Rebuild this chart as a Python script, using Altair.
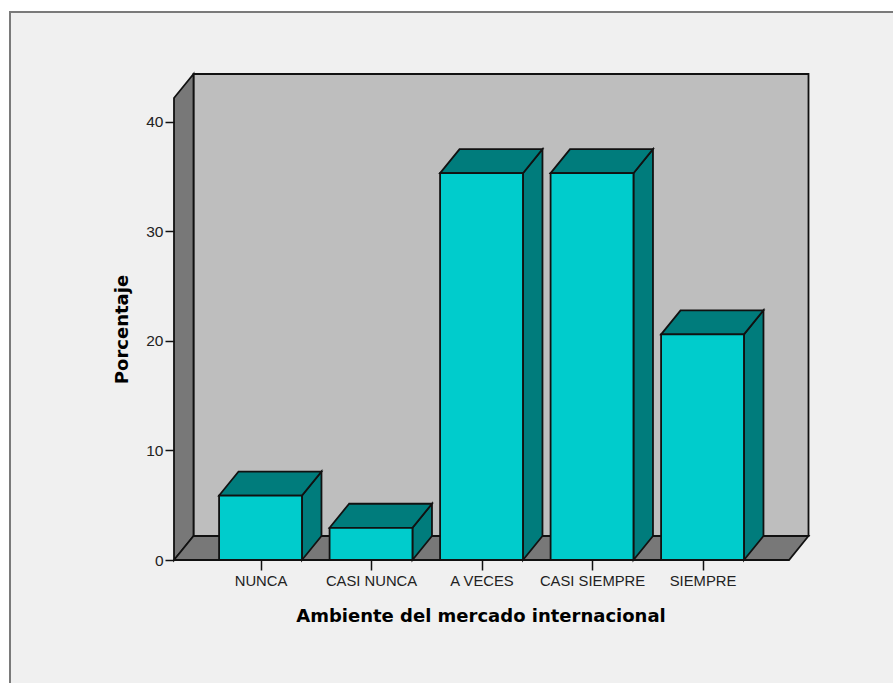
import json
import altair as alt
import pandas as pd

# Survey results: share of responses per category
categories = ["NUNCA", "CASI NUNCA", "A VECES", "CASI SIEMPRE", "SIEMPRE"]
percentages = [5.88, 2.94, 35.29, 35.29, 20.59]
y_ticks = [0, 10, 20, 30, 40]

# Extent of the 3D box and its oblique depth, in axis units
X_MIN, X_MAX = 0.217, 5.959
Y_MIN, Y_MAX = 0.0, 44.34
DEPTH_X, DEPTH_Y = 0.1765, 2.19
BAR_WIDTH = 0.75

INK = "#111111"
LINE_WIDTH = 1.8
FRONT = "#00CCCC"
SHADE = "#007C7C"
WALL = "#BEBEBE"
SIDE_WALL = "#787878"
FRAME_FILL = "#F0F0F0"
FRAME_LINE = "#7A7A7A"
FONT = "Liberation Sans"
TITLE_FONT = "DejaVu Sans"

x_scale = alt.Scale(domain=[X_MIN, X_MAX], nice=False, zero=False)
y_scale = alt.Scale(domain=[Y_MIN, Y_MAX], nice=False, zero=False)

x_axis = alt.Axis(
    values=list(range(1, len(categories) + 1)),
    labelExpr=f"{json.dumps(categories)}[datum.value - 1]",
    title="Ambiente del mercado internacional",
    titleFont=TITLE_FONT, titleFontSize=18, titleFontWeight="bold", titleColor="#000000",
    titleX=306.5, titleY=47, titleAnchor="middle", titleAlign="center",
    labelFont=FONT, labelFontSize=14.8, labelColor="#222222", labelPadding=3, labelOverlap=False,
    domain=False, grid=False, ticks=True, tickColor=INK, tickSize=10, tickWidth=1.5, zindex=1,
)
y_axis = alt.Axis(
    values=y_ticks, format="d",
    title="Porcentaje",
    titleFont=TITLE_FONT, titleFontSize=18, titleFontWeight="bold", titleColor="#000000",
    titleX=-43, titleY=255, titleAnchor="middle", titleAlign="center",
    labelFont=FONT, labelFontSize=15.5, labelColor="#222222", labelPadding=2,
    domain=False, grid=False, ticks=True, tickColor=INK, tickSize=9, tickWidth=1.5, zindex=1,
)

X = alt.X("x:Q", scale=x_scale, axis=x_axis)
Y = alt.Y("y:Q", scale=y_scale, axis=y_axis)

# Light panel behind everything; its stroke shows along the top and left edges
frame = alt.Chart(pd.DataFrame({"f": [0]})).mark_rect(
    fill=FRAME_FILL, stroke=FRAME_LINE, strokeWidth=2
).encode(x=alt.value(-164), x2=alt.value(760), y=alt.value(-62), y2=alt.value(660))

# Back wall of the box
back = pd.DataFrame({"x": [X_MIN + DEPTH_X], "x2": [X_MAX], "y": [DEPTH_Y], "y2": [Y_MAX]})
back_wall = alt.Chart(back).mark_rect(fill=WALL, stroke=INK, strokeWidth=LINE_WIDTH).encode(
    x=X, x2="x2:Q", y=Y, y2="y2:Q",
)

# Left wall: a parallelogram with vertical edges
left = pd.DataFrame({
    "x": [X_MIN, X_MIN + DEPTH_X],
    "y": [Y_MIN, Y_MIN + DEPTH_Y],
    "y2": [Y_MAX - DEPTH_Y, Y_MAX],
})
left_wall = alt.Chart(left).mark_area(
    fill=SIDE_WALL, stroke=INK, strokeWidth=LINE_WIDTH, orient="vertical"
).encode(x=X, y=Y, y2="y2:Q")

# Floor: a parallelogram with horizontal edges
floor = pd.DataFrame({
    "y": [Y_MIN, Y_MIN + DEPTH_Y],
    "x": [X_MIN, X_MIN + DEPTH_X],
    "x2": [X_MAX - DEPTH_X, X_MAX],
})
floor_plane = alt.Chart(floor).mark_area(
    fill=SIDE_WALL, stroke=INK, strokeWidth=LINE_WIDTH, orient="horizontal"
).encode(y=Y, x=X, x2="x2:Q")

# Bar faces, all derived from the percentages
front_rows, side_rows, top_rows = [], [], []
for i, (name, value) in enumerate(zip(categories, percentages), start=1):
    lo, hi = i - BAR_WIDTH / 2, i + BAR_WIDTH / 2
    front_rows.append({"c": name, "x": lo, "x2": hi, "y": 0, "y2": value})
    side_rows += [
        {"c": name, "x": hi, "y": 0, "y2": value},
        {"c": name, "x": hi + DEPTH_X, "y": DEPTH_Y, "y2": value + DEPTH_Y},
    ]
    top_rows += [
        {"c": name, "y": value, "x": lo, "x2": hi},
        {"c": name, "y": value + DEPTH_Y, "x": lo + DEPTH_X, "x2": hi + DEPTH_X},
    ]

bar_sides = alt.Chart(pd.DataFrame(side_rows)).mark_area(
    fill=SHADE, stroke=INK, strokeWidth=LINE_WIDTH, orient="vertical"
).encode(x=X, y=Y, y2="y2:Q", detail="c:N")
bar_tops = alt.Chart(pd.DataFrame(top_rows)).mark_area(
    fill=SHADE, stroke=INK, strokeWidth=LINE_WIDTH, orient="horizontal"
).encode(y=Y, x=X, x2="x2:Q", detail="c:N")
bar_fronts = alt.Chart(pd.DataFrame(front_rows)).mark_rect(
    fill=FRONT, stroke=INK, strokeWidth=LINE_WIDTH
).encode(x=X, x2="x2:Q", y=Y, y2="y2:Q")

chart = alt.layer(
    frame, back_wall, left_wall, floor_plane, bar_sides, bar_tops, bar_fronts
).properties(
    width=634.5,
    height=486,
    padding={"left": 174, "top": 74, "right": 84.5, "bottom": 123},
    autosize=alt.AutoSizeParams(type="none"),
    background="#FFFFFF",
).configure_view(stroke=None)

chart.save("out.html", embed_options={"renderer": "svg", "actions": False})
